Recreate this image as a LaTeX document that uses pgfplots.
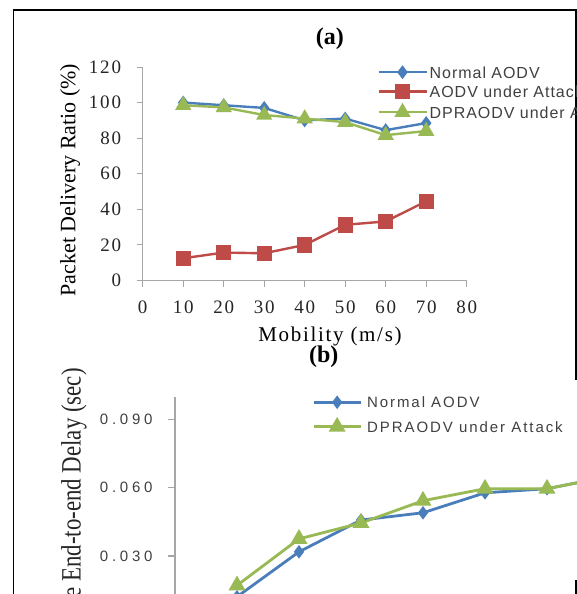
\documentclass[border=0pt]{standalone}
\usepackage{fontspec}
\setmainfont{Liberation Serif}
\usepackage{graphicx}
\usepackage{pgfplots}
\pgfplotsset{compat=1.18}
\newfontfamily\serifA[LetterSpace=10]{Liberation Serif}
\newfontfamily\serifX[LetterSpace=8]{Liberation Serif}
\newfontfamily\sansLegA[LetterSpace=6]{Liberation Sans}
\newfontfamily\sansLegB[LetterSpace=13]{Liberation Sans}
\newfontfamily\sansTickB[LetterSpace=25]{Liberation Sans}
\definecolor{xblue}{HTML}{4A7EBB}
\definecolor{xred}{HTML}{BE4B48}
\definecolor{xgreen}{HTML}{98B954}
\definecolor{axgray}{HTML}{A6A6A6}
\definecolor{txtgray}{HTML}{404040}
\begin{document}
\begin{tikzpicture}
\useasboundingbox (0pt,0pt) rectangle (577pt,-594pt);
\clip (0pt,0pt) rectangle (577pt,-594pt);
\fill[white] (0pt,0pt) rectangle (577pt,-594pt);
% frame
\draw[line width=1.6pt,black] (13.5pt,-600pt) -- (13.5pt,-10pt) -- (576pt,-10pt) -- (576pt,-380pt);
\draw[line width=1.6pt,black] (576pt,-580pt) -- (576pt,-600pt);

% ---------------- panel (a)
\begin{axis}[
  at={(142.7pt,-280.5pt)}, anchor=south west,
  scale only axis, width=324pt, height=213.5pt,
  xmin=0, xmax=80, ymin=0, ymax=120,
  axis lines*=left,
  axis line style={draw=axgray, line width=1.2pt},
  xtick={0,10,...,80}, ytick={0,20,...,120},
  tick style={draw=axgray, line width=1pt},
  major tick length=6pt, tick align=outside,
  /pgf/number format/assume math mode=true,
  xticklabel style={font=\fontsize{19}{19}\serifA, text=black!85, yshift=-11pt},
  yticklabel style={font=\fontsize{19}{19}\serifA, text=black!85, xshift=-12pt},
  title={\textbf{(a)}},
  title style={font=\fontsize{24}{24}\selectfont, at={(axis description cs:0.578,1.1405)}, anchor=center, yshift=-8pt},
  xlabel={Mobility (m/s)},
  xlabel style={font=\fontsize{21}{21}\serifX, at={(axis description cs:0.578,-0.26)}, anchor=center},
  ylabel={Packet Delivery Ratio (\%)},
  ylabel style={font=\fontsize{22}{22}\selectfont, at={(axis description cs:-0.224,0.47)}, anchor=center},
  legend style={draw=none, fill=none, at={(axis description cs:0.7235,1.0047)}, anchor=north west,
    inner sep=0pt, font=\fontsize{16}{16}\sansLegA, text=txtgray,
    nodes={inner sep=0pt, text height=12pt, text depth=0pt},
    row sep=7pt, column sep=2pt},
  legend cell align=left,
  legend image code/.code={\draw[mark repeat=2,mark phase=2,#1] plot coordinates {(0pt,0pt) (24pt,0pt) (48pt,0pt)};},
  clip=false,
]
\addplot[xblue, line width=2.4pt, mark=diamond*, mark size=5pt] coordinates {(10,100)(20,98.5)(30,97)(40,90)(50,91)(60,84.5)(70,88.5)};
\addlegendentry{Normal AODV}
\addplot[xred, line width=2.4pt, mark=square*, mark size=6.5pt] coordinates {(10,12.5)(20,15.7)(30,15.3)(40,20)(50,31.3)(60,33.2)(70,44.5)};
\addlegendentry{AODV under Attack}
\addplot[xgreen, line width=2.4pt, mark=triangle*, mark size=7pt] coordinates {(10,98.5)(20,97.3)(30,93)(40,91)(50,89)(60,81.7)(70,84)};
\addlegendentry{DPRAODV under Attack}
\end{axis}

% ---------------- panel (b)
\begin{axis}[
  at={(175pt,-624pt)}, anchor=south west,
  scale only axis, width=496pt, height=227pt,
  xmin=0, xmax=80, ymin=0, ymax=0.1,
  axis lines*=left,
  axis line style={draw=axgray, line width=1.4pt},
  xtick=\empty, ytick={0.03,0.06,0.09},
  scaled y ticks=false,
  yticklabel={\pgfmathprintnumber[fixed,fixed zerofill,precision=3]{\tick}},
  tick style={draw=axgray, line width=1.2pt},
  major tick length=7pt, tick align=outside,
  /pgf/number format/assume math mode=true,
  yticklabel style={font=\fontsize{15}{15}\sansTickB, text=txtgray, xshift=-12pt},
  title={\textbf{(b)}},
  title style={font=\fontsize{24}{24}\selectfont, at={(axis description cs:0.300,1.185)}, anchor=center, yshift=-8pt},
  ylabel={\scalebox{0.817}[1]{\fontsize{28}{28}\selectfont Average End-to-end Delay (sec)}},
  ylabel style={at={(axis description cs:-0.2036,0.477)}, anchor=center, text=black!85},
  legend style={draw=none, fill=none, at={(axis description cs:0.2763,1.002)}, anchor=north west,
    inner sep=0pt, font=\fontsize{15}{15}\sansLegB, text=txtgray,
    nodes={inner sep=0pt, text height=11pt, text depth=0pt},
    row sep=12pt, column sep=5pt},
  legend cell align=left,
  legend image code/.code={\draw[mark repeat=2,mark phase=2,#1] plot coordinates {(0pt,0pt) (23.5pt,0pt) (47pt,0pt)};},
  clip=false,
]
\addplot[xblue, line width=2.8pt, mark=diamond*, mark size=4.5pt] coordinates {(10,0.012)(20,0.0318)(30,0.0458)(40,0.049)(50,0.0578)(60,0.0596)(70,0.065)};
\addlegendentry{Normal AODV}
\addplot[xgreen, line width=2.8pt, mark=triangle*, mark size=7pt] coordinates {(10,0.017)(20,0.0375)(30,0.0445)(40,0.0543)(50,0.0596)(60,0.0596)(70,0.065)};
\addlegendentry{DPRAODV under Attack}
\end{axis}
\end{tikzpicture}
\end{document}
